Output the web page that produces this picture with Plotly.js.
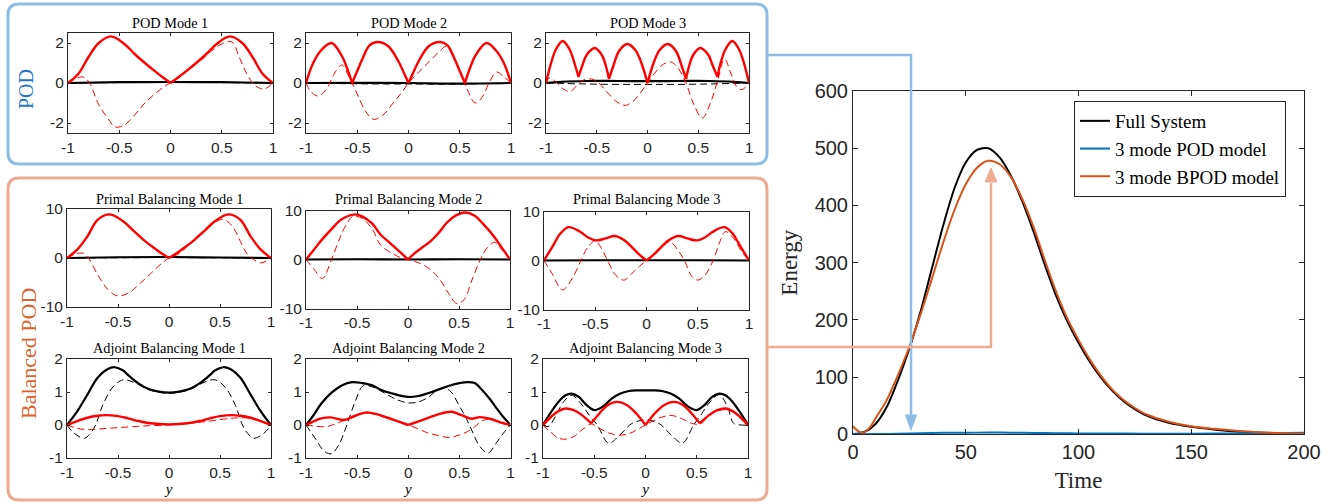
<!DOCTYPE html>
<html><head><meta charset="utf-8">
<script src="https://cdn.plot.ly/plotly-3.0.1.min.js"></script>
<style>body{margin:0;background:#fff}#chart{width:1338px;height:504px}</style>
</head><body><div id="chart"></div>
<script>
// ---------------- DATA ----------------
const xTickVals = [-1, -0.5, 0, 0.5, 1];
const xTickText = ['-1', '-0.5', '0', '0.5', '1'];
const podYTicks = [-2, 0, 2];       const podYText = ['-2', '0', '2'];
const primalYTicks = [-10, 0, 10];  const primalYText = ['-10', '0', '10'];
const adjYTicks = [-1, 0, 1, 2];    const adjYText = ['-1', '0', '1', '2'];
const timeTicks = [0, 50, 100, 150, 200];
const energyTicks = [0, 100, 200, 300, 400, 500, 600];

const plotTitles = ['POD Mode 1', 'POD Mode 2', 'POD Mode 3',
  'Primal Balancing Mode 1', 'Primal Balancing Mode 2', 'Primal Balancing Mode 3',
  'Adjoint Balancing Mode 1', 'Adjoint Balancing Mode 2', 'Adjoint Balancing Mode 3'];

// POD Mode 1
const pod1BlkX = [-1, -0.5, 0, 0.5, 1];
const pod1BlkY = [0, 0.04, 0.05, 0.04, 0];
const pod1BlkDashY = [0, 0.02, 0.03, 0.02, 0];
const pod1RedX = [-1,-0.9,-0.8,-0.7,-0.58,-0.45,-0.35,-0.25,-0.15,-0.07,0,0.07,0.15,0.25,0.35,0.45,0.58,0.7,0.8,0.9,1];
const pod1RedY = [0,0.45,1.3,2.0,2.33,1.95,1.45,1.0,0.58,0.26,0,0.26,0.58,1.0,1.45,1.95,2.33,2.0,1.3,0.45,0];
const pod1RedDashX = [-1,-0.93,-0.85,-0.79,-0.7,-0.6,-0.54,-0.45,-0.35,-0.25,-0.15,-0.05,0,0.1,0.2,0.3,0.4,0.5,0.6,0.67,0.75,0.82,0.91,1];
const pod1RedDashY = [0,0.2,0.3,0,-1.08,-1.85,-2.2,-2.1,-1.6,-1.0,-0.53,-0.14,0,0.33,0.75,1.15,1.6,1.95,2.05,1.3,0.4,-0.1,-0.3,0];
const pod1RedBreaks = [0];

// POD Mode 2
const pod2BlkX = [-1, -0.5, 0, 0.5, 1];
const pod2BlkY = [0, 0.01, 0, -0.03, 0];
const pod2BlkDashY = [0, -0.04, -0.05, -0.05, 0];
const pod2RedX = [-1,-0.93,-0.85,-0.75,-0.65,-0.6,-0.55,-0.5,-0.45,-0.38,-0.3,-0.2,-0.1,-0.04,0,0.04,0.1,0.2,0.31,0.38,0.45,0.5,0.55,0.6,0.65,0.76,0.85,0.93,1];
const pod2RedY = [0,1.0,1.65,2.0,1.35,0.75,0,0.6,1.2,1.88,2.05,1.85,1.1,0.45,0,0.45,1.1,1.85,2.05,1.88,1.2,0.6,0,0.75,1.35,2.0,1.65,1.0,0];
const pod2RedDashX = [-1,-0.95,-0.88,-0.8,-0.72,-0.65,-0.58,-0.5,-0.42,-0.34,-0.25,-0.15,-0.07,0,0.1,0.2,0.3,0.37,0.45,0.52,0.58,0.65,0.72,0.79,0.86,0.93,1];
const pod2RedDashY = [0,-0.45,-0.65,-0.3,0.5,0.9,0.3,-0.55,-1.4,-1.82,-1.6,-1.0,-0.5,0,0.55,1.06,1.57,1.83,1.15,0.35,-0.4,-1.0,-0.7,0.05,0.55,0.3,0];
const pod2RedBreaks = [-0.55, 0, 0.55];

// POD Mode 3
const pod3BlkX = [-1,-0.85,-0.6,-0.3,0,0.3,0.6,0.85,1];
const pod3BlkY = [0,0.06,0.1,0.1,0.09,0.1,0.1,0.06,0];
const pod3BlkDashY = [0,-0.02,-0.05,-0.07,-0.07,-0.07,-0.05,-0.02,0];
const pod3RedX = [-1,-0.95,-0.9,-0.835,-0.77,-0.72,-0.68,-0.64,-0.6,-0.52,-0.45,-0.41,-0.38,-0.34,-0.28,-0.2,-0.12,-0.06,0,0.06,0.12,0.2,0.28,0.34,0.38,0.41,0.45,0.52,0.6,0.64,0.69,0.72,0.77,0.835,0.9,0.95,1];
const pod3RedY = [0,1.0,1.7,2.1,1.7,1.0,0.3,0.9,1.4,1.75,1.4,0.85,0.2,0.8,1.6,1.95,1.65,1.0,0,1.0,1.65,1.95,1.6,0.8,0.2,0.85,1.4,1.75,1.4,0.9,0.3,1.0,1.7,2.1,1.7,1.0,0];
const pod3RedDashX = [-1,-0.97,-0.9,-0.83,-0.76,-0.7,-0.63,-0.55,-0.48,-0.4,-0.3,-0.22,-0.15,-0.07,0,0.08,0.16,0.23,0.3,0.38,0.45,0.54,0.62,0.69,0.76,0.82,0.88,0.93,1];
const pod3RedDashY = [0,0.25,0.05,-0.3,-0.42,-0.15,0.15,0.2,0,-0.45,-0.95,-1.12,-0.95,-0.5,0,0.55,0.95,1.05,0.75,0,-1.0,-1.75,-1.0,0.1,1.2,0.5,-0.2,-0.33,0];
const pod3RedBreaks = [-0.68, -0.38, 0, 0.38, 0.69];

// Primal Balancing Mode 1
const pbm1BlkX = [-1, -0.5, 0, 0.5, 1];
const pbm1BlkY = [0, 0.15, 0.2, 0.1, 0];
const pbm1BlkDashY = [0, 0.05, 0.1, 0.05, 0];
const pbm1RedX = [-1,-0.9,-0.8,-0.7,-0.58,-0.45,-0.35,-0.25,-0.15,-0.07,0,0.07,0.15,0.25,0.35,0.45,0.58,0.7,0.8,0.9,1];
const pbm1RedY = [0,1.7,4.4,7.8,8.9,7.5,5.6,3.7,2.1,0.9,0,0.9,2.1,3.7,5.6,7.5,8.9,7.8,4.4,1.7,0];
const pbm1RedDashX = [-1,-0.93,-0.85,-0.79,-0.7,-0.6,-0.51,-0.4,-0.28,-0.18,-0.1,0,0.1,0.2,0.3,0.4,0.5,0.56,0.63,0.7,0.76,0.81,0.9,1];
const pbm1RedDashY = [0,0.7,1.0,0,-3.4,-6.4,-7.7,-7.2,-5.1,-3.2,-1.6,0,0.9,2.8,4.5,6.4,7.8,7.6,6.2,3.4,1.0,0,-1.0,0];
const pbm1RedBreaks = [0];

// Primal Balancing Mode 2
const pbm2BlkX = [-1, -0.5, 0, 0.5, 1];
const pbm2BlkY = [0, 0.05, 0, 0.05, 0];
const pbm2BlkDashY = [0, 0.02, 0, 0.02, 0];
const pbm2RedX = [-1,-0.93,-0.85,-0.75,-0.65,-0.52,-0.45,-0.35,-0.27,-0.2,-0.13,-0.06,0,0.06,0.13,0.22,0.3,0.38,0.47,0.56,0.65,0.77,0.85,0.9,0.95,1];
const pbm2RedY = [0,1.8,3.9,6.2,8.2,9.2,8.8,7.3,5.1,3.8,2.5,1.2,0,1.2,2.3,3.7,5.4,7.5,9.0,9.6,9.0,6.5,4.5,3.0,1.5,0];
const pbm2RedDashX = [-1,-0.92,-0.84,-0.75,-0.67,-0.6,-0.54,-0.45,-0.35,-0.27,-0.15,-0.05,0,0.08,0.16,0.25,0.32,0.4,0.48,0.55,0.63,0.71,0.78,0.85,0.92,1];
const pbm2RedDashY = [0,-2.0,-3.9,0,4.3,7.3,8.8,8.4,6.2,3.0,1.2,0.2,0,-0.5,-1.2,-2.6,-4.3,-7.0,-9.0,-8.2,-4.0,0,2.5,3.5,2.0,0];
const pbm2RedBreaks = [0];

// Primal Balancing Mode 3
const pbm3BlkX = [-1, -0.5, 0, 0.5, 1];
const pbm3BlkY = [0, 0.05, 0.05, 0.05, 0];
const pbm3BlkDashY = [0, 0.02, 0.02, 0.02, 0];
const pbm3RedX = [-1,-0.91,-0.84,-0.76,-0.65,-0.57,-0.49,-0.4,-0.31,-0.22,-0.16,-0.07,0,0.07,0.16,0.22,0.31,0.4,0.49,0.57,0.65,0.76,0.84,0.91,1];
const pbm3RedY = [0,3.1,5.5,6.8,5.9,4.7,4.1,4.5,5.0,4.2,3.1,1.2,0,1.2,3.1,4.2,5.0,4.5,4.1,4.7,5.9,6.8,5.5,3.1,0];
const pbm3RedDashX = [-1,-0.92,-0.82,-0.72,-0.64,-0.57,-0.5,-0.44,-0.38,-0.3,-0.22,-0.14,-0.07,0,0.07,0.15,0.23,0.3,0.37,0.44,0.5,0.57,0.65,0.71,0.77,0.85,0.93,1];
const pbm3RedDashY = [0,-2.7,-6.0,-3.5,0,2.8,4.0,2.5,0,-3.0,-4.0,-2.6,-1.2,0,1.1,2.8,3.8,2.3,0,-3.2,-4.0,-3.0,0,3.5,5.9,4.5,1.8,0];
const pbm3RedBreaks = [0];

// Adjoint Balancing Mode 1
const abm1BlkX = [-1,-0.95,-0.9,-0.8,-0.7,-0.6,-0.53,-0.45,-0.4,-0.3,-0.2,-0.1,0,0.1,0.2,0.3,0.4,0.45,0.53,0.6,0.7,0.8,0.9,0.95,1];
const abm1BlkY = [0,0.2,0.41,0.92,1.43,1.7,1.75,1.65,1.51,1.26,1.09,1.01,0.98,1.01,1.09,1.26,1.51,1.65,1.75,1.7,1.43,0.92,0.41,0.2,0];
const abm1BlkDashX = [-1,-0.93,-0.83,-0.77,-0.72,-0.65,-0.55,-0.45,-0.35,-0.2,0,0.2,0.35,0.45,0.55,0.65,0.72,0.77,0.83,0.93,1];
const abm1BlkDashY = [0,-0.25,-0.4,-0.25,0,0.6,1.15,1.37,1.3,1.07,0.96,1.07,1.3,1.37,1.15,0.6,0,-0.25,-0.4,-0.25,0];
const abm1RedX = [-1,-0.9,-0.8,-0.7,-0.62,-0.5,-0.4,-0.3,-0.2,-0.1,0,0.1,0.2,0.3,0.4,0.5,0.62,0.7,0.8,0.9,1];
const abm1RedY = [0,0.12,0.22,0.28,0.3,0.27,0.2,0.12,0.06,0.03,0.02,0.03,0.06,0.12,0.2,0.27,0.3,0.28,0.22,0.12,0];
const abm1RedDashX = [-1,-0.9,-0.8,-0.6,-0.4,-0.2,0,0.2,0.4,0.6,0.7,0.8,0.9,1];
const abm1RedDashY = [0,-0.1,-0.14,-0.1,-0.06,-0.02,0,0.05,0.12,0.2,0.22,0.2,0.1,0];
const abm1RedBreaks = [];

// Adjoint Balancing Mode 2
const abm2BlkX = [-1,-0.93,-0.85,-0.75,-0.65,-0.55,-0.45,-0.35,-0.27,-0.15,0,0.1,0.2,0.3,0.4,0.5,0.58,0.65,0.72,0.8,0.87,0.93,1];
const abm2BlkY = [0,0.28,0.65,0.98,1.2,1.3,1.27,1.2,1.07,0.95,0.85,0.88,0.97,1.08,1.19,1.27,1.3,1.27,1.07,0.78,0.48,0.24,0];
const abm2BlkDashX = [-1,-0.9,-0.82,-0.75,-0.68,-0.6,-0.52,-0.44,-0.35,-0.25,-0.12,0,0.1,0.2,0.28,0.35,0.42,0.5,0.56,0.62,0.7,0.78,0.86,0.93,1];
const abm2BlkDashY = [0,-0.45,-0.8,-0.87,-0.6,0,0.7,1.19,1.15,1.0,0.78,0.67,0.7,0.85,1.05,1.13,1.0,0.57,0.25,-0.15,-0.65,-0.85,-0.55,-0.25,0];
const abm2RedX = [-1,-0.92,-0.85,-0.76,-0.63,-0.52,-0.41,-0.3,-0.2,-0.1,0,0.1,0.2,0.3,0.42,0.52,0.62,0.7,0.8,0.9,1];
const abm2RedY = [0,0.12,0.2,0.23,0.15,0.28,0.38,0.32,0.22,0.11,0,0.11,0.22,0.33,0.4,0.3,0.19,0.24,0.19,0.08,0];
const abm2RedDashX = [-1,-0.9,-0.8,-0.7,-0.62,-0.52,-0.41,-0.3,-0.2,-0.1,0,0.1,0.2,0.3,0.4,0.5,0.58,0.65,0.72,0.8,0.9,1];
const abm2RedDashY = [0,-0.04,-0.05,0.05,0.15,0.27,0.37,0.3,0.2,0.1,0,-0.12,-0.25,-0.32,-0.38,-0.3,-0.2,-0.05,0.12,0.18,0.07,0];
const abm2RedBreaks = [0];

// Adjoint Balancing Mode 3
const abm3BlkX = [-1,-0.93,-0.85,-0.78,-0.72,-0.65,-0.58,-0.5,-0.42,-0.33,-0.25,-0.16,-0.08,0,0.08,0.16,0.25,0.33,0.42,0.5,0.58,0.65,0.72,0.78,0.85,0.93,1];
const abm3BlkY = [0,0.35,0.7,0.9,0.95,0.85,0.62,0.45,0.55,0.8,0.95,1.03,1.05,1.05,1.05,1.03,0.95,0.8,0.55,0.45,0.62,0.85,0.95,0.9,0.7,0.35,0];
const abm3BlkDashX = [-1,-0.95,-0.88,-0.8,-0.72,-0.63,-0.55,-0.47,-0.36,-0.25,-0.13,0,0.13,0.25,0.36,0.47,0.55,0.63,0.72,0.8,0.86,0.93,1];
const abm3BlkDashY = [0,-0.05,0.25,0.7,0.9,0.65,0.3,0,-0.55,-0.3,0.05,0.15,0.05,-0.3,-0.55,0,0.35,0.7,0.92,0.55,0.05,0,0];
const abm3RedX = [-1,-0.92,-0.85,-0.78,-0.7,-0.62,-0.53,-0.45,-0.37,-0.28,-0.18,-0.09,0,0.09,0.18,0.28,0.37,0.45,0.53,0.62,0.7,0.78,0.85,0.92,1];
const abm3RedY = [0,0.25,0.42,0.5,0.45,0.3,0.05,0.35,0.6,0.7,0.6,0.35,0,0.35,0.6,0.7,0.6,0.35,0.05,0.3,0.45,0.5,0.42,0.25,0];
const abm3RedDashX = [-1,-0.93,-0.85,-0.78,-0.7,-0.62,-0.53,-0.45,-0.35,-0.25,-0.15,-0.07,0,0.07,0.15,0.25,0.35,0.45,0.53,0.62,0.7,0.78,0.85,0.93,1];
const abm3RedDashY = [0,-0.2,-0.4,-0.43,-0.35,-0.15,0.03,-0.1,-0.25,-0.31,-0.25,-0.12,0,0.12,0.23,0.29,0.2,0.05,0.03,0.28,0.42,0.47,0.4,0.2,0];
const abm3RedBreaks = [-0.53, 0, 0.53];

// Energy vs time
const seriesNames = ['Full System', '3 mode POD model', '3 mode BPOD model'];
const tFull = [0,5,10,15,20,25,30,35,40,45,50,55,60,65,70,75,80,85,90,95,100,105,110,115,120,125,130,140,150,160,170,180,190,200];
const eFull = [0,4,18,48,95,150,215,290,365,430,475,497,500,484,452,408,355,297,243,198,160,127,99,76,58,44,33,20,13,8.5,5,3,2,1];
const tPOD = [0,10,20,30,40,50,60,70,80,90,100,120,140,160,180,200];
const ePOD = [0,0.5,1,1.8,2.5,2.8,3,2.8,2.4,2,1.6,1.2,1,1.2,1.8,2.5];
const tBPOD = [0,2.5,5,7.5,10,15,20,25,30,35,40,45,50,55,60,65,70,75,80,85,90,95,100,105,110,115,120,125,130,140,150,160,170,180,190,200];
const eBPOD = [14,5,3.5,12,28,60,104,153,210,272,335,392,437,466,478,472,450,412,363,305,250,203,165,131,102,78,60,46,35,22,14,9.5,6,3.5,2,1];

// ---------------- LAYOUT HELPERS ----------------
const W = 1338, H = 504;
const PX = v => v / W;
const PY = v => 1 - v / H;
const SANS = 'Liberation Sans, Arial, Helvetica, sans-serif';
const SERIF = 'Liberation Serif, Times New Roman, serif';
const AX = '#262626';

function withBreaks(x, y, breaks) {
  const X = [], Y = [];
  for (let i = 0; i < x.length; i++) {
    X.push(x[i]); Y.push(y[i]);
    if (breaks && breaks.includes(x[i]) && i > 0 && i < x.length - 1) {
      X.push(null); Y.push(null); X.push(x[i]); Y.push(y[i]);
    }
  }
  return [X, Y];
}

const cells = [
  {x:[68,273], y:[33,133], yr:[-2.5,2.5], yt:podYTicks, ytt:podYText, tY:23,
   d:[pod1BlkX,pod1BlkY,pod1BlkX,pod1BlkDashY,pod1RedX,pod1RedY,pod1RedBreaks,pod1RedDashX,pod1RedDashY]},
  {x:[306,511], y:[33,133], yr:[-2.5,2.5], yt:podYTicks, ytt:podYText, tY:23,
   d:[pod2BlkX,pod2BlkY,pod2BlkX,pod2BlkDashY,pod2RedX,pod2RedY,pod2RedBreaks,pod2RedDashX,pod2RedDashY]},
  {x:[546,749], y:[33,133], yr:[-2.5,2.5], yt:podYTicks, ytt:podYText, tY:23,
   d:[pod3BlkX,pod3BlkY,pod3BlkX,pod3BlkDashY,pod3RedX,pod3RedY,pod3RedBreaks,pod3RedDashX,pod3RedDashY]},
  {x:[67,271], y:[209,307], yr:[-10,10], yt:primalYTicks, ytt:primalYText, tY:199,
   d:[pbm1BlkX,pbm1BlkY,pbm1BlkX,pbm1BlkDashY,pbm1RedX,pbm1RedY,pbm1RedBreaks,pbm1RedDashX,pbm1RedDashY]},
  {x:[306,510], y:[210.5,308.5], yr:[-10,10], yt:primalYTicks, ytt:primalYText, tY:199,
   d:[pbm2BlkX,pbm2BlkY,pbm2BlkX,pbm2BlkDashY,pbm2RedX,pbm2RedY,pbm2RedBreaks,pbm2RedDashX,pbm2RedDashY]},
  {x:[544,749], y:[211.5,309.5], yr:[-10,10], yt:primalYTicks, ytt:primalYText, tY:199,
   d:[pbm3BlkX,pbm3BlkY,pbm3BlkX,pbm3BlkDashY,pbm3RedX,pbm3RedY,pbm3RedBreaks,pbm3RedDashX,pbm3RedDashY]},
  {x:[67,271], y:[359,458], yr:[-1,2], yt:adjYTicks, ytt:adjYText, tY:348, xl:true,
   d:[abm1BlkX,abm1BlkY,abm1BlkDashX,abm1BlkDashY,abm1RedX,abm1RedY,abm1RedBreaks,abm1RedDashX,abm1RedDashY]},
  {x:[306,510.5], y:[359,458], yr:[-1,2], yt:adjYTicks, ytt:adjYText, tY:348, xl:true,
   d:[abm2BlkX,abm2BlkY,abm2BlkDashX,abm2BlkDashY,abm2RedX,abm2RedY,abm2RedBreaks,abm2RedDashX,abm2RedDashY]},
  {x:[543,748], y:[359,458], yr:[-1,2], yt:adjYTicks, ytt:adjYText, tY:348, xl:true,
   d:[abm3BlkX,abm3BlkY,abm3BlkDashX,abm3BlkDashY,abm3RedX,abm3RedY,abm3RedBreaks,abm3RedDashX,abm3RedDashY]}
];

const traces = [];
const layout = {
  width: W, height: H,
  margin: {l:0, r:0, t:0, b:0},
  paper_bgcolor: '#fff', plot_bgcolor: '#fff',
  showlegend: true,
  annotations: [], shapes: []
};

cells.forEach((c, i) => {
  const n = i + 1;
  const xa = n === 1 ? 'x' : 'x' + n, ya = n === 1 ? 'y' : 'y' + n;
  const d = c.d;
  const common = {xaxis: xa, yaxis: ya, mode: 'lines', showlegend: false, hoverinfo: 'skip', cliponaxis: true};
  traces.push(Object.assign({x: d[0], y: d[1], line: {color: '#000', width: 2.2, shape: 'spline'}}, common));
  traces.push(Object.assign({x: d[2], y: d[3], line: {color: '#000', width: 1, dash: '7px,4px', shape: 'spline'}}, common));
  const [rx, ry] = withBreaks(d[4], d[5], d[6]);
  traces.push(Object.assign({x: rx, y: ry, connectgaps: false, line: {color: '#ff0000', width: 2.4, shape: 'spline'}}, common));
  traces.push(Object.assign({x: d[7], y: d[8], line: {color: '#ff0000', width: 1, dash: '7px,4px', shape: 'spline'}}, common));

  const xk = n === 1 ? 'xaxis' : 'xaxis' + n, yk = n === 1 ? 'yaxis' : 'yaxis' + n;
  const axBase = {ticks: 'inside', ticklen: 3, tickwidth: 1, tickcolor: AX, showline: true, linecolor: AX,
    linewidth: 1, mirror: 'ticks', zeroline: false, showgrid: false, fixedrange: true,
    tickfont: {family: SANS, size: 15.5, color: AX}};
  layout[xk] = Object.assign({}, axBase, {domain: [PX(c.x[0]), PX(c.x[1])], range: [-1, 1], anchor: ya,
    tickmode: 'array', tickvals: xTickVals, ticktext: xTickText});
  if (c.xl) layout[xk].title = {text: '<i>y</i>', font: {family: SERIF, size: 15, color: '#000'}, standoff: 1};
  layout[yk] = Object.assign({}, axBase, {domain: [PY(c.y[1]), PY(c.y[0])], range: c.yr, anchor: xa,
    tickmode: 'array', tickvals: c.yt, ticktext: c.ytt});
  layout.annotations.push({text: plotTitles[i], xref: 'paper', yref: 'paper', x: PX((c.x[0] + c.x[1]) / 2), y: PY(c.tY),
    xanchor: 'center', yanchor: 'middle', showarrow: false, font: {family: SERIF, size: 14.3, color: '#000'}});
});

// Energy plot
traces.push({x: tFull, y: eFull, name: seriesNames[0], xaxis: 'x10', yaxis: 'y10', mode: 'lines',
  line: {color: '#000000', width: 2, shape: 'spline', smoothing: 0.8}, hoverinfo: 'skip'});
traces.push({x: tPOD, y: ePOD, name: seriesNames[1], xaxis: 'x10', yaxis: 'y10', mode: 'lines',
  line: {color: '#0072BD', width: 2, shape: 'spline', smoothing: 0.8}, hoverinfo: 'skip'});
traces.push({x: tBPOD, y: eBPOD, name: seriesNames[2], xaxis: 'x10', yaxis: 'y10', mode: 'lines',
  line: {color: '#D95319', width: 2, shape: 'spline', smoothing: 0.8}, hoverinfo: 'skip'});

const bigAx = {ticks: 'inside', ticklen: 5, tickwidth: 1, tickcolor: AX, showline: true, linecolor: AX,
  linewidth: 1, mirror: 'ticks', zeroline: false, showgrid: false, fixedrange: true,
  tickfont: {family: SANS, size: 20, color: AX}};
layout.xaxis10 = Object.assign({}, bigAx, {domain: [PX(853), PX(1304)], range: [0, 200], anchor: 'y10',
  tickmode: 'array', tickvals: timeTicks, ticktext: timeTicks.map(String),
  title: {text: 'Time', font: {family: SERIF, size: 23, color: '#262626'}, standoff: 9}});
layout.yaxis10 = Object.assign({}, bigAx, {domain: [PY(434.3), PY(91)], range: [0, 600], anchor: 'x10',
  tickmode: 'array', tickvals: energyTicks, ticktext: energyTicks.map(String),
  title: {text: 'Energy', font: {family: SERIF, size: 23, color: '#262626'}, standoff: 10}});

layout.legend = {x: PX(1074), y: PY(101), xanchor: 'left', yanchor: 'top', bgcolor: '#fff',
  bordercolor: AX, borderwidth: 1, font: {family: SERIF, size: 19, color: '#000'},
  itemwidth: 30, tracegroupgap: 0};

// Side labels
layout.annotations.push({text: 'POD', xref: 'paper', yref: 'paper', x: PX(26), y: PY(89), textangle: -90,
  xanchor: 'center', yanchor: 'middle', showarrow: false, font: {family: SERIF, size: 20, color: '#1f78c1'}});
layout.annotations.push({text: 'Balanced POD', xref: 'paper', yref: 'paper', x: PX(28), y: PY(354), textangle: -90,
  xanchor: 'center', yanchor: 'middle', showarrow: false, font: {family: SERIF, size: 22, color: '#e0612a'}});

// Boxes and arrows
function P(x, y) { return PX(x).toFixed(5) + ',' + PY(y).toFixed(5); }
function rrect(x0, y0, x1, y1, r) {
  return 'M' + P(x0 + r, y0) + ' L' + P(x1 - r, y0) + ' Q' + P(x1, y0) + ' ' + P(x1, y0 + r) +
    ' L' + P(x1, y1 - r) + ' Q' + P(x1, y1) + ' ' + P(x1 - r, y1) +
    ' L' + P(x0 + r, y1) + ' Q' + P(x0, y1) + ' ' + P(x0, y1 - r) +
    ' L' + P(x0, y0 + r) + ' Q' + P(x0, y0) + ' ' + P(x0 + r, y0) + ' Z';
}
const blueC = '#8dbde4', orangeC = '#efab91';
layout.shapes.push({type: 'path', xref: 'paper', yref: 'paper', path: rrect(8, 4, 767, 164, 11),
  line: {color: blueC, width: 3}, fillcolor: 'rgba(0,0,0,0)', layer: 'below'});
layout.shapes.push({type: 'path', xref: 'paper', yref: 'paper', path: rrect(8, 178, 767, 500, 11),
  line: {color: orangeC, width: 3}, fillcolor: 'rgba(0,0,0,0)', layer: 'below'});
layout.shapes.push({type: 'path', xref: 'paper', yref: 'paper', path: 'M' + P(767, 55) + ' L' + P(911, 55) + ' L' + P(911, 417),
  line: {color: blueC, width: 2.5}, fillcolor: 'rgba(0,0,0,0)'});
layout.shapes.push({type: 'path', xref: 'paper', yref: 'paper', path: 'M' + P(905.5, 415) + ' L' + P(916.5, 415) + ' L' + P(911, 430) + ' Z',
  line: {color: blueC, width: 1}, fillcolor: blueC});
layout.shapes.push({type: 'path', xref: 'paper', yref: 'paper', path: 'M' + P(767, 347) + ' L' + P(991, 347) + ' L' + P(991, 183),
  line: {color: orangeC, width: 2.5}, fillcolor: 'rgba(0,0,0,0)'});
layout.shapes.push({type: 'path', xref: 'paper', yref: 'paper', path: 'M' + P(985, 182) + ' L' + P(997, 182) + ' L' + P(991, 168) + ' Z',
  line: {color: orangeC, width: 1}, fillcolor: orangeC});

Plotly.newPlot('chart', traces, layout, {staticPlot: true, displayModeBar: false});
</script>
</body></html>
